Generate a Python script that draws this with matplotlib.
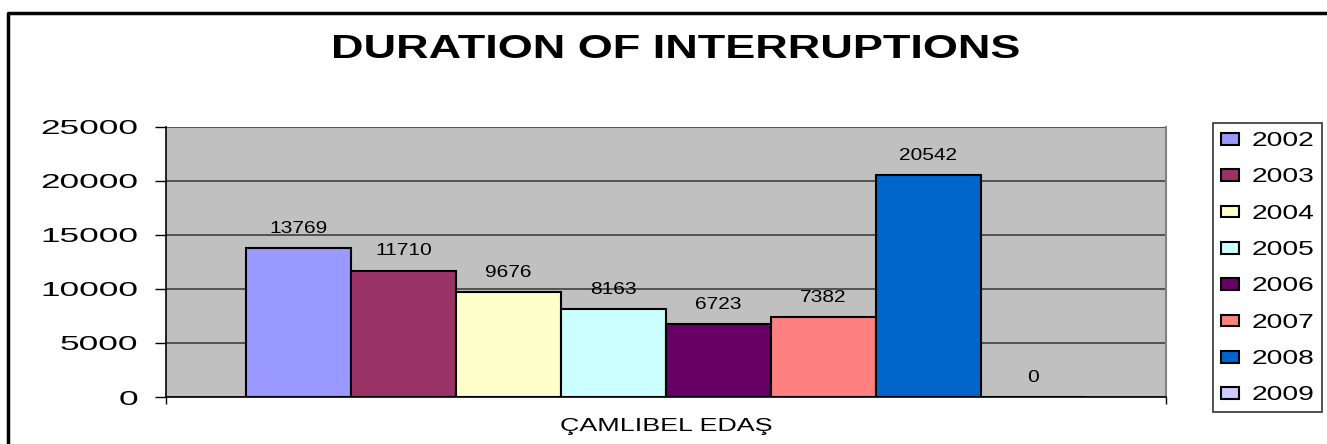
import matplotlib.pyplot as plt
import matplotlib.font_manager as fm
from matplotlib.lines import Line2D
from fontTools.ttLib import TTFont

# Values
years = ['2002', '2003', '2004', '2005', '2006', '2007', '2008', '2009']
durations = [13769, 11710, 9676, 8163, 6723, 7382, 20542, 0]
colors = ['#9999FF', '#993366', '#FFFFCC', '#CCFFFF', '#660066', '#FF8080', '#0066CC', '#CCCCFF']
category = 'ÇAMLIBEL EDAŞ'
yticks = [0, 5000, 10000, 15000, 20000, 25000]

W, H, DPI = 1327, 444, 100


def wide_font(sx, size, bold=False):
    # the reference text is stretched sideways, so build a wider Liberation Sans
    weight = 'bold' if bold else 'normal'
    src = fm.findfont(fm.FontProperties(family='Liberation Sans', weight=weight))
    font = TTFont(src)
    glyf = font['glyf']
    hmtx = font['hmtx']
    for name in font.getGlyphOrder():
        g = glyf[name]
        if g.isComposite():
            for c in g.components:
                if hasattr(c, 'x'):
                    c.x = round(c.x * sx)
            g.removeHinting()
        elif g.numberOfContours > 0:
            g.coordinates.scale((sx, 1))
            g.coordinates.toInt()
            g.removeHinting()
        adv, lsb = hmtx[name]
        hmtx[name] = (round(adv * sx), round(lsb * sx))
    for tag in ['fpgm', 'prep', 'cvt ', 'hdmx', 'VDMX', 'LTSH']:
        if tag in font:
            del font[tag]
    if 'kern' in font:
        for sub in font['kern'].kernTables:
            sub.kernTable = {k: round(v * sx) for k, v in sub.kernTable.items()}
    path = 'wide_%s_%d.ttf' % (weight, round(sx * 100))
    font.save(path)
    return fm.FontProperties(fname=path, size=size)


title_font = wide_font(1.35, 24, bold=True)
tick_font = wide_font(1.75, 14.5)
legend_font = wide_font(1.4, 14.5)
value_font = wide_font(1.32, 11.4)
cat_font = wide_font(1.44, 13.4)

fig = plt.figure(figsize=(W / DPI, H / DPI), dpi=DPI)
ax = fig.add_axes([166 / W, 1 - 397 / H, 1000 / W, 270 / H])
ax.set_facecolor('#C0C0C0')

group = 0.84
width = group / len(years)
start = -group / 2 + width / 2
for i, (yr, val, col) in enumerate(zip(years, durations, colors)):
    x = start + i * width
    ax.bar(x, val, width=width, color=col, edgecolor='black', linewidth=1.5,
           label=yr, zorder=3)
    ax.annotate(str(val), (x, val), xytext=(0, 11), textcoords='offset points',
                ha='center', va='baseline', fontproperties=value_font, zorder=4)

ax.set_xlim(-0.5, 0.5)
ax.set_ylim(0, 25000)
ax.set_yticks(yticks)
ax.set_yticklabels([str(t) for t in yticks])
for lbl in ax.get_yticklabels():
    lbl.set_fontproperties(tick_font)
ax.tick_params(axis='y', direction='out', length=8, width=1, pad=12)
ax.yaxis.grid(True, color='#404040', linewidth=1.2, zorder=1)

ax.set_xticks([0])
ax.set_xticklabels([category])
for lbl in ax.get_xticklabels():
    lbl.set_fontproperties(cat_font)
ax.tick_params(axis='x', which='major', length=0, pad=15)
ax.set_xticks([-0.5, 0.5], minor=True)
ax.tick_params(axis='x', which='minor', direction='out', length=5, width=1)

for side in ['left', 'bottom']:
    ax.spines[side].set_color('black')
    ax.spines[side].set_linewidth(1.2)
ax.spines['right'].set_color('#808080')
ax.spines['right'].set_linewidth(1.5)
ax.spines['top'].set_visible(False)

fig.text(676 / W, 1 - 50 / H, 'DURATION OF INTERRUPTIONS', ha='center', va='center',
         fontproperties=title_font)

leg = ax.legend(loc='upper left', bbox_to_anchor=(1213 / W, 1 - 123 / H),
                bbox_transform=fig.transFigure, prop=legend_font, frameon=True,
                fancybox=False, edgecolor='black', handlelength=0.9,
                handleheight=0.5, handletextpad=0.6, labelspacing=0.86,
                borderpad=0.4, borderaxespad=0)
leg.get_frame().set_linewidth(1.2)
for h in leg.legend_handles:
    h.set_linewidth(1.5)

# outer chart frame (only its top and left edges show in the reference)
fig.lines.append(Line2D([8 / W, 8 / W, 1], [0, 1 - 13 / H, 1 - 13 / H],
                        transform=fig.transFigure, color='black', linewidth=2.5))

fig.savefig('out.png', dpi=DPI)
